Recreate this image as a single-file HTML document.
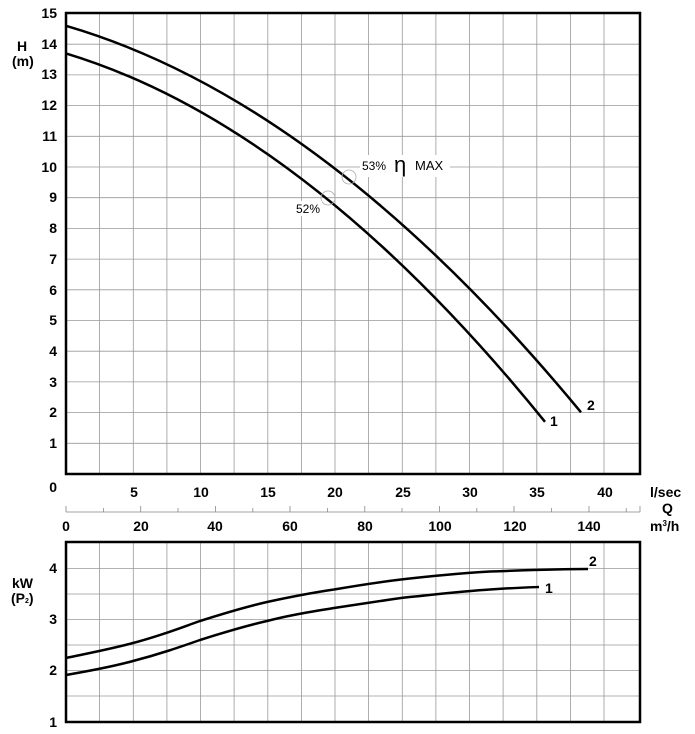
<!DOCTYPE html>
<html><head><meta charset="utf-8"><style>
html,body{margin:0;padding:0;background:#fff;}
svg{display:block;font-family:"Liberation Sans",Arial,sans-serif;}
.b{font-weight:bold;font-size:14px;fill:#000;}
.g{stroke:#999;stroke-width:0.8;fill:none;}
</style></head><body>
<svg width="695" height="734" viewBox="0 0 695 734" xmlns="http://www.w3.org/2000/svg">
<g class="g">
<path d="M99.6 13V474M133.3 13V474M166.9 13V474M200.5 13V474M234.1 13V474M267.8 13V474M301.4 13V474M335 13V474M368.6 13V474M402.3 13V474M435.9 13V474M469.5 13V474M503.1 13V474M536.8 13V474M570.4 13V474M604 13V474"/>
<path d="M66 443.3H640M66 412.6H640M66 381.9H640M66 351.2H640M66 320.5H640M66 289.8H640M66 259.1H640M66 228.4H640M66 197.7H640M66 167H640M66 136.3H640M66 105.6H640M66 74.9H640M66 44.2H640"/>
</g>
<rect x="66" y="13" width="574" height="461" fill="none" stroke="#000" stroke-width="2.5"/>
<g class="b" text-anchor="end">
<text x="57" y="18">15</text><text x="57" y="49">14</text><text x="57" y="79">13</text><text x="57" y="110">12</text><text x="57" y="141">11</text><text x="57" y="172">10</text><text x="57" y="202">9</text><text x="57" y="233">8</text><text x="57" y="264">7</text><text x="57" y="295">6</text><text x="57" y="325">5</text><text x="57" y="356">4</text><text x="57" y="387">3</text><text x="57" y="417">2</text><text x="57" y="448">1</text><text x="57" y="492">0</text>
</g>
<text class="b" x="17" y="51">H</text><text class="b" x="12" y="66">(m)</text>
<path d="M66 25.8 Q323.6 101 581 412.3" fill="none" stroke="#000" stroke-width="2.5"/>
<path d="M66 53.4 Q305.4 126.1 545 421.8" fill="none" stroke="#000" stroke-width="2.5"/>
<text class="b" x="587" y="410">2</text><text class="b" x="550" y="426">1</text>
<circle cx="349" cy="177" r="7" fill="none" stroke="#aaa" stroke-width="0.8"/>
<circle cx="328" cy="198" r="7" fill="none" stroke="#aaa" stroke-width="0.8"/>
<rect x="360" y="155" width="90" height="22" fill="#fff"/>
<text x="362" y="170" font-size="12">53%</text>
<text x="394" y="172" font-size="22">η</text>
<text x="415" y="170" font-size="13">MAX</text>
<rect x="294" y="201" width="28" height="15" fill="#fff"/>
<text x="296" y="213" font-size="12">52%</text>
<g class="b" text-anchor="middle">
<text x="134" y="497">5</text><text x="201" y="497">10</text><text x="268" y="497">15</text><text x="335" y="497">20</text><text x="403" y="497">25</text><text x="470" y="497">30</text><text x="537" y="497">35</text><text x="605" y="497">40</text>
<text x="66" y="531">0</text><text x="141" y="531">20</text><text x="215" y="531">40</text><text x="290" y="531">60</text><text x="365" y="531">80</text><text x="440" y="531">100</text><text x="515" y="531">120</text><text x="589" y="531">140</text>
</g>
<text class="b" x="650" y="497">l/sec</text>
<text class="b" x="662" y="513">Q</text>
<text class="b" x="650" y="531">m<tspan font-size="8" dy="-5">3</tspan><tspan dy="5">/h</tspan></text>
<path d="M66 512H640M66 512V506M103.4 512V508M140.7 512V506M178 512V508M215.4 512V506M252.8 512V508M290 512V506M327.4 512V508M364.8 512V506M402 512V508M439.4 512V506M476.8 512V508M514 512V506M551.4 512V508M589 512V506M626.2 512V508M640 512V506" stroke="#888" stroke-width="0.8" fill="none"/>
<g class="g">
<path d="M99.6 542V722M133.3 542V722M166.9 542V722M200.5 542V722M234.1 542V722M267.8 542V722M301.4 542V722M335 542V722M368.6 542V722M402.3 542V722M435.9 542V722M469.5 542V722M503.1 542V722M536.8 542V722M570.4 542V722M604 542V722"/>
<path d="M66 568.5H640M66 594H640M66 619.5H640M66 645H640M66 670.5H640M66 696H640"/>
</g>
<rect x="66" y="542" width="574" height="180" fill="none" stroke="#000" stroke-width="2.5"/>
<g class="b" text-anchor="end">
<text x="57" y="573">4</text><text x="57" y="624">3</text><text x="57" y="675">2</text><text x="57" y="727">1</text>
</g>
<text class="b" x="12" y="588">kW</text>
<text class="b" x="11" y="603" font-size="12">(P<tspan font-size="7">2</tspan>)</text>
<path d="M66 658 C95 652 115 648 133 643 C160 636 180 628 200 621 C225 613 245 607 267 602 C290 597 310 593 334 589.5 C360 585 380 582 401 579.5 C440 575 465 573 490 571.5 C530 570 560 569 588 569" fill="none" stroke="#000" stroke-width="2.5"/>
<path d="M66 675 C95 670 115 666 133 661 C160 654 180 647 200 640 C225 632 245 626 267 621 C290 615 310 612 334 608 C360 604 380 601 401 598 C440 594 465 591 490 589.5 C510 588 525 587.5 539 587" fill="none" stroke="#000" stroke-width="2.5"/>
<text class="b" x="589" y="566">2</text><text class="b" x="545" y="593">1</text>
</svg>
</body></html>
